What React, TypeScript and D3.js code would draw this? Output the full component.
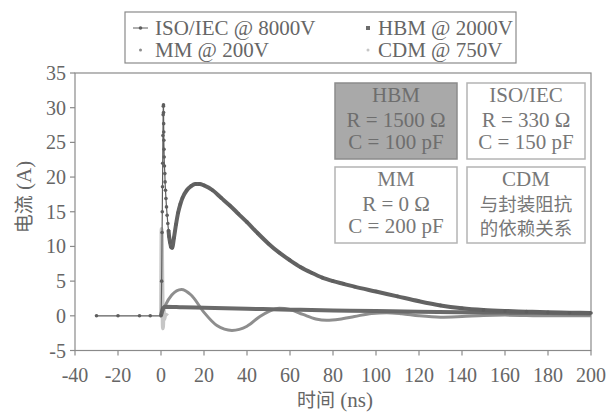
import React from 'react';
import * as d3 from 'd3';

// 时间 (ns) / 电流 (A) readings
const isoTime = [-30, -20, -10, -5, 0, 0.3, 0.5, 0.6, 0.7, 0.8, 0.9, 1.0, 1.1, 1.16, 1.2, 1.24, 1.28, 1.32, 1.4, 1.47, 1.6, 1.78, 1.9, 2.09, 2.3, 2.55, 2.85, 3.17, 3.5, 3.79, 4.2, 4.72, 5.2, 6, 7, 8, 9, 10, 12, 14, 16, 18, 20, 24, 28, 32, 36, 40, 45, 50, 55, 60, 65, 70, 75, 80, 85, 90, 100, 110, 120, 130, 140, 150, 160, 170, 180, 190, 200];
const isoCurrent = [0, 0, 0, 0, 0, 5, 12, 15, 18.6, 22, 26, 29, 30.2, 30.4, 29.3, 27.7, 26.5, 25.3, 24.0, 22.9, 21.6, 20.5, 19.3, 18.1, 16.9, 15.7, 14.5, 13.3, 12.3, 11.4, 10.6, 9.9, 9.8, 11.2, 13.2, 14.9, 16.1, 17.0, 18.1, 18.7, 19.0, 19.0, 18.8, 18.1, 17.0, 15.9, 14.7, 13.5, 11.9, 10.4, 9.1, 8.0, 7.0, 6.2, 5.5, 5.0, 4.6, 4.2, 3.5, 2.8, 2.1, 1.5, 1.1, 0.85, 0.7, 0.6, 0.5, 0.45, 0.4];

const hbmTime = [0, 1, 2, 10, 20, 40, 60, 80, 100, 120, 140, 160, 180, 200];
const hbmCurrent = [0, 1.1, 1.32, 1.24, 1.16, 1.02, 0.89, 0.78, 0.68, 0.6, 0.52, 0.46, 0.4, 0.35];

const mmTime = [0, 2, 5, 9.5, 14, 20, 26, 33, 40, 46, 50, 55, 60, 66, 72, 77, 83, 90, 98, 105, 112, 120, 130, 140, 150, 160, 180, 200];
const mmCurrent = [0, 1.5, 3.0, 3.8, 3.0, 0.5, -1.4, -2.1, -1.5, -0.1, 0.6, 1.1, 0.9, 0.2, -0.45, -0.65, -0.5, -0.1, 0.35, 0.45, 0.3, 0.0, -0.2, -0.1, 0.05, 0.1, 0.0, 0.0];

const cdmTime = [-0.5, 0, 0.3, 0.6, 0.9, 1.2, 1.5, 2, 3];
const cdmCurrent = [0, 0, 12.5, 5, -1.8, 1, -0.5, 0.2, 0];

const xTicks = [-40, -20, 0, 20, 40, 60, 80, 100, 120, 140, 160, 180, 200];
const yTicks = [-5, 0, 5, 10, 15, 20, 25, 30, 35];

const legendLabels = ['ISO/IEC @ 8000V', 'HBM @ 2000V', 'MM @ 200V', 'CDM @ 750V'];
const boxTitles = ['HBM', 'ISO/IEC', 'MM', 'CDM'];
const boxLines = [
  ['R = 1500 Ω', 'C = 100 pF'],
  ['R = 330 Ω', 'C = 150 pF'],
  ['R = 0 Ω', 'C = 200 pF'],
  ['与封装阻抗', '的依赖关系'],
];

const font = "Liberation Serif, Tinos, Times New Roman, DejaVu Serif, serif";
const cjk = "Noto Sans CJK SC, sans-serif";
const ink = '#666';

type Pt = [number, number];
const zip = (t: number[], v: number[]): Pt[] => t.map((d, i) => [d, v[i]]);
const isCjk = (s: string) => /[\u4e00-\u9fff]/.test(s);

export default function App() {
  const width = 607;
  const height = 412;
  const left = 75, right = 591, top = 73, bottom = 350.5;

  const x = d3.scaleLinear().domain([-40, 200]).range([left, right]);
  const y = d3.scaleLinear().domain([-5, 35]).range([bottom, top]);
  const line = d3.line<Pt>().x(d => x(d[0])).y(d => y(d[1])).curve(d3.curveMonotoneX);

  const iso = zip(isoTime, isoCurrent);
  const isoTail = iso.filter(d => d[0] >= 3.5);
  const hbm = zip(hbmTime, hbmCurrent);
  const mm = zip(mmTime, mmCurrent);
  const cdm = zip(cdmTime, cdmCurrent);

  // annotation boxes, 2x2 grid
  const boxX = [335, 467];
  const boxY = [83, 167];
  const boxW = [122, 118];
  const boxH = 76;

  return (
    <svg width={width} height={height} style={{ position: 'absolute', left: 0, top: 0, background: '#fff' }}
      fontFamily={font}>
      {/* plot frame */}
      <rect x={left} y={top} width={right - left} height={bottom - top} fill="none" stroke="#8a8a8a" strokeWidth={1.2} />

      {yTicks.map(t => (
        <g key={'y' + t}>
          <line x1={left - 5} x2={left} y1={y(t)} y2={y(t)} stroke="#8a8a8a" strokeWidth={1.2} />
          <text x={left - 9} y={y(t)} dy="0.35em" textAnchor="end" fontSize={20} fill={ink}>{t}</text>
        </g>
      ))}
      {xTicks.map(t => (
        <g key={'x' + t}>
          <line x1={x(t)} x2={x(t)} y1={bottom} y2={bottom + 5} stroke="#8a8a8a" strokeWidth={1.2} />
          <text x={x(t)} y={bottom + 24} dy="0.35em" textAnchor="middle" fontSize={20} fill={ink}>{t}</text>
        </g>
      ))}

      <text transform="translate(24,197) rotate(-90)" textAnchor="middle" dy="0.35em" fontSize={21} fill={ink}>
        <tspan fontFamily={cjk} fontSize={19}>电流</tspan> (A)
      </text>
      <text x={335} y={400} textAnchor="middle" dy="0.35em" fontSize={21} fill={ink}>
        <tspan fontFamily={cjk} fontSize={19}>时间</tspan> (ns)
      </text>

      {/* annotation boxes */}
      {boxTitles.map((title, i) => {
        const bx = boxX[i % 2];
        const by = boxY[Math.floor(i / 2)];
        const bw = boxW[i % 2];
        const cx = bx + bw / 2;
        const col = i === 0 ? '#6e6e6e' : '#777';
        return (
          <g key={title}>
            <rect x={bx} y={by} width={bw} height={boxH} fill={i === 0 ? '#a9a9a9' : '#fff'}
              stroke={i === 0 ? '#8c8c8c' : '#b4b4b4'} strokeWidth={1.5} />
            <text textAnchor="middle" fontSize={21} fill={col}>
              <tspan x={cx} y={by + 19}>{title}</tspan>
              {boxLines[i].map((s, j) => (
                <tspan key={j} x={cx} y={by + 44 + j * (isCjk(s) ? 24 : 22)}
                  fontSize={isCjk(s) ? 18.5 : 21} fontFamily={isCjk(s) ? cjk : undefined}>{s}</tspan>
              ))}
            </text>
          </g>
        );
      })}

      {/* series */}
      <path d={line(cdm) ?? ''} fill="none" stroke="#c6c6c6" strokeWidth={4} />
      <path d={line(mm) ?? ''} fill="none" stroke="#8e8e8e" strokeWidth={3} />
      <path d={line(hbm) ?? ''} fill="none" stroke="#6a6a6a" strokeWidth={4} />
      <path d={line(iso) ?? ''} fill="none" stroke="#5e5e5e" strokeWidth={1.2} />
      <path d={line(isoTail) ?? ''} fill="none" stroke="#636363" strokeWidth={4} />
      {iso.map((d, i) => (
        <circle key={i} cx={x(d[0])} cy={y(d[1])} r={1.8} fill="#5e5e5e" />
      ))}

      {/* legend */}
      <rect x={125} y={12} width={391} height={51} fill="#fff" stroke="#8a8a8a" strokeWidth={1.2} />
      <line x1={133} x2={148} y1={28} y2={28} stroke="#5e5e5e" strokeWidth={1} />
      <circle cx={140.5} cy={28} r={1.8} fill="#5e5e5e" />
      <rect x={366} y={26} width={4} height={4} fill="#6c6c6c" />
      <circle cx={140.5} cy={50} r={1.5} fill="#8e8e8e" />
      <circle cx={368} cy={50} r={1.5} fill="#c6c6c6" />
      {legendLabels.map((s, i) => (
        <text key={s} x={i % 2 === 0 ? 155 : 378} y={i < 2 ? 35 : 57} fontSize={21} fill={ink}>{s}</text>
      ))}
    </svg>
  );
}
